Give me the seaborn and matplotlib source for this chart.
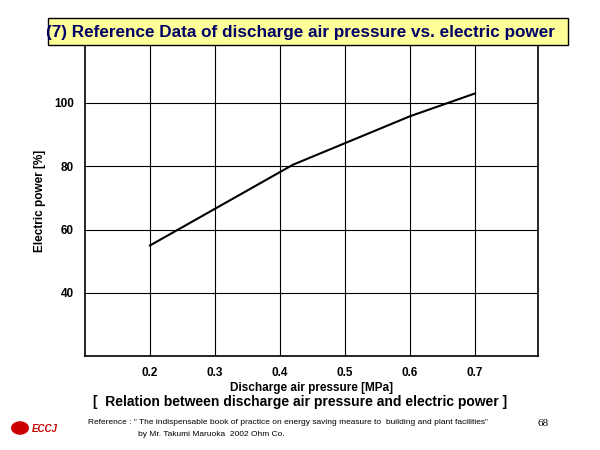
import matplotlib
matplotlib.use("Agg")
import matplotlib.pyplot as plt
import seaborn as sns
import pandas as pd
from matplotlib.patches import Rectangle, Circle

plt.rcParams["font.family"] = "Liberation Sans"

pressure = [0.2, 0.42, 0.6, 0.7]
power = [55, 80.5, 95.8, 103]
xticks = [0.2, 0.3, 0.4, 0.5, 0.6, 0.7]
yticks = [40, 60, 80, 100]

df = pd.DataFrame({"p": pressure, "e": power})
fig = plt.figure(figsize=(6, 4.5), dpi=100)
ax = fig.add_axes([85/600, 1-356/450, (538-85)/600, (356-45)/450])
sns.lineplot(data=df, x="p", y="e", ax=ax, color="black", lw=1.5)
ax.set_xlim(0.1, 0.797)
ax.set_ylim(20.1, 118.3)
ax.set_xticks(xticks)
ax.set_yticks(yticks)
ax.set_xticklabels([str(t) for t in xticks], fontweight="bold", fontsize=8.5)
ax.set_yticklabels([str(t) for t in yticks], fontweight="bold", fontsize=8.5)
ax.tick_params(length=0, pad=8)
ax.grid(True, color="black", lw=0.8)
for s in ax.spines.values():
    s.set_linewidth(1.2)
ax.set_xlabel("Discharge air pressure [MPa]", fontweight="bold", fontsize=8.5, labelpad=2)
ax.set_ylabel("Electric power [%]", fontweight="bold", fontsize=8.5, labelpad=6)

fig.patches.append(Rectangle((48/600, 1-45/450), (568-48)/600, 27/450, transform=fig.transFigure,
                             facecolor="#ffff99", edgecolor="black", lw=1, zorder=0))
fig.text(0.5, 1-32/450, "(7) Reference Data of discharge air pressure vs. electric power",
         ha="center", va="center", fontsize=12.3, fontweight="bold", color="#000066")
fig.text(0.5, 1-402/450, "[  Relation between discharge air pressure and electric power ]",
         ha="center", va="center", fontsize=10, fontweight="bold")
fig.text(88/600, 1-423/450, "Reference : \" The indispensable book of practice on energy saving measure to  building and plant facilities\"",
         ha="left", va="center", fontsize=6)
fig.text(138/600, 1-434/450, "by Mr. Takumi Maruoka  2002 Ohm Co.", ha="left", va="center", fontsize=6)
fig.text(538/600, 1-423/450, "68", ha="left", va="center", fontsize=8, family="Liberation Serif")
fig.patches.append(Circle((20/600, 1-428/450), 9/600, transform=fig.transFigure, facecolor="#cc0000", edgecolor="none"))
fig.text(32/600, 1-429/450, "ECCJ", ha="left", va="center", fontsize=7, fontweight="bold", style="italic", color="#cc0000")
fig.savefig("out.png", dpi=100)
